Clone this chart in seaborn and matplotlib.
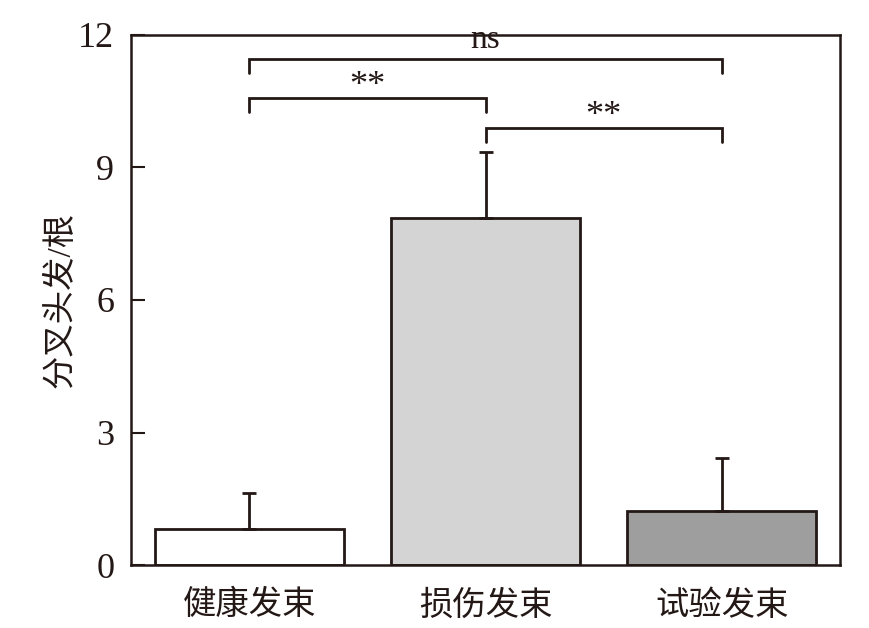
import numpy as np
import pandas as pd
import seaborn as sns
from matplotlib import pyplot as plt

groups = ["健康发束", "损伤发束", "试验发束"]
means = [0.82, 7.85, 1.23]
sds = [0.82, 1.50, 1.20]
bar_colors = ["#ffffff", "#d4d4d4", "#9e9e9e"]

# significance brackets: (left group, right group, height, label)
brackets = [
    (0, 2, 11.45, "ns"),
    (0, 1, 10.58, "**"),
    (1, 2, 9.90, "**"),
]

ink = "#231815"

sns.set_theme(style="ticks")
plt.rcParams["font.family"] = ["Liberation Serif", "Noto Sans CJK SC", "DejaVu Sans"]

df = pd.DataFrame({"group": groups, "mean": means, "sd": sds})

figure = plt.figure(figsize=(8.7, 6.28), dpi=100)
ax = figure.add_axes([0.1506, 0.1003, 0.8149, 0.844])

sns.barplot(
    data=df,
    x="group",
    y="mean",
    hue="group",
    palette=bar_colors,
    edgecolor=ink,
    linewidth=2,
    width=0.8,
    errorbar=None,
    legend=False,
    ax=ax,
)

x_pos = np.arange(len(groups))
ax.errorbar(
    x_pos,
    means,
    yerr=[np.zeros(len(sds)), sds],
    fmt="none",
    ecolor=ink,
    elinewidth=2,
    capsize=5,
    capthick=2,
    zorder=1,
)

leg = 0.32
for left, right, height, label in brackets:
    ax.plot(
        [x_pos[left], x_pos[left], x_pos[right], x_pos[right]],
        [height - leg, height, height, height - leg],
        color=ink,
        lw=2,
        solid_joinstyle="miter",
    )
    # Times asterisks sit high, so drop them a little
    offset = 0.1 if label == "ns" else -0.12
    ax.text(
        (x_pos[left] + x_pos[right]) / 2,
        height + offset,
        label,
        ha="center",
        va="bottom",
        fontsize=24 if label == "ns" else 26,
        color=ink,
    )

ax.set_xlim(-0.5, 2.5)
ax.set_ylim(0, 12)
ax.set_yticks([0, 3, 6, 9, 12])
ax.set_xlabel("")
ax.set_ylabel("分叉头发/根", fontsize=24, color=ink, labelpad=1)
ax.tick_params(axis="y", direction="in", length=10, width=1.5, colors=ink, labelsize=26, pad=12)
ax.tick_params(axis="x", length=0, labelsize=24, colors=ink, pad=18)
for spine in ax.spines.values():
    spine.set_visible(True)
    spine.set_color(ink)
    spine.set_linewidth(1.8)

figure.savefig("out.png", dpi=100)
